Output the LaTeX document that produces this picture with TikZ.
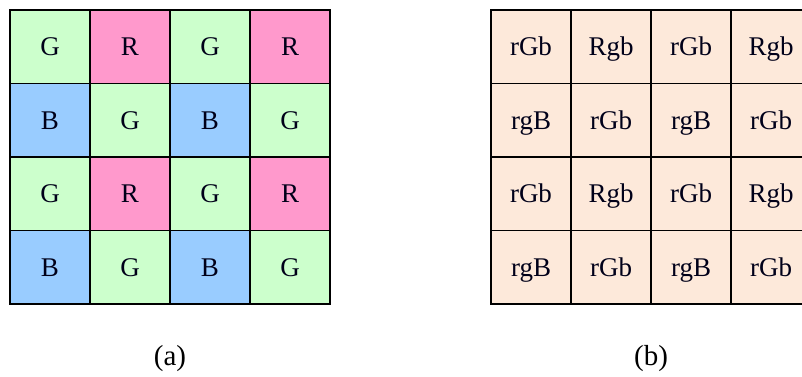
\documentclass[tikz,border=0pt]{standalone}
\usepackage{fontspec}
\setmainfont{Liberation Serif}
\definecolor{bayerG}{HTML}{CCFFCC}
\definecolor{bayerR}{HTML}{FF99CC}
\definecolor{bayerB}{HTML}{99CCFF}
\definecolor{peach}{HTML}{FDE9DA}
\begin{document}
\begin{tikzpicture}[x=1pt,y=-1pt,
  cell/.style={draw=black, line width=1.4pt, minimum width=80pt, minimum height=73.5pt,
    inner sep=0pt, outer sep=0pt, anchor=north west, text=black!90!blue,
    text height=18pt, text depth=0pt,
    font=\fontsize{27}{32}\selectfont},
  caption/.style={font=\fontsize{29}{34}\selectfont, inner sep=0pt}]
\useasboundingbox (0,0) rectangle (802,376);
\clip (0,0) rectangle (802,376);
% (a) Bayer colour filter array
\foreach \i/\j/\t/\c in {
  0/0/G/bayerG, 0/1/R/bayerR, 0/2/G/bayerG, 0/3/R/bayerR,
  1/0/B/bayerB, 1/1/G/bayerG, 1/2/B/bayerB, 1/3/G/bayerG,
  2/0/G/bayerG, 2/1/R/bayerR, 2/2/G/bayerG, 2/3/R/bayerR,
  3/0/B/bayerB, 3/1/G/bayerG, 3/2/B/bayerB, 3/3/G/bayerG}
  \node[cell, fill=\c] (a-\i-\j) at (10+80*\j, 10+73.5*\i) {\t};
% (b) full-colour sample labels
\foreach \i/\j/\t in {
  0/0/rGb, 0/1/Rgb, 0/2/rGb, 0/3/Rgb,
  1/0/rgB, 1/1/rGb, 1/2/rgB, 1/3/rGb,
  2/0/rGb, 2/1/Rgb, 2/2/rGb, 2/3/Rgb,
  3/0/rgB, 3/1/rGb, 3/2/rgB, 3/3/rGb}
  \node[cell, fill=peach] (b-\i-\j) at (491+80*\j, 10+73.5*\i) {\t};
\node[caption] (capa) at (170,359) {(a)};
\node[caption] (capb) at (651,359) {(b)};
\end{tikzpicture}
\end{document}
